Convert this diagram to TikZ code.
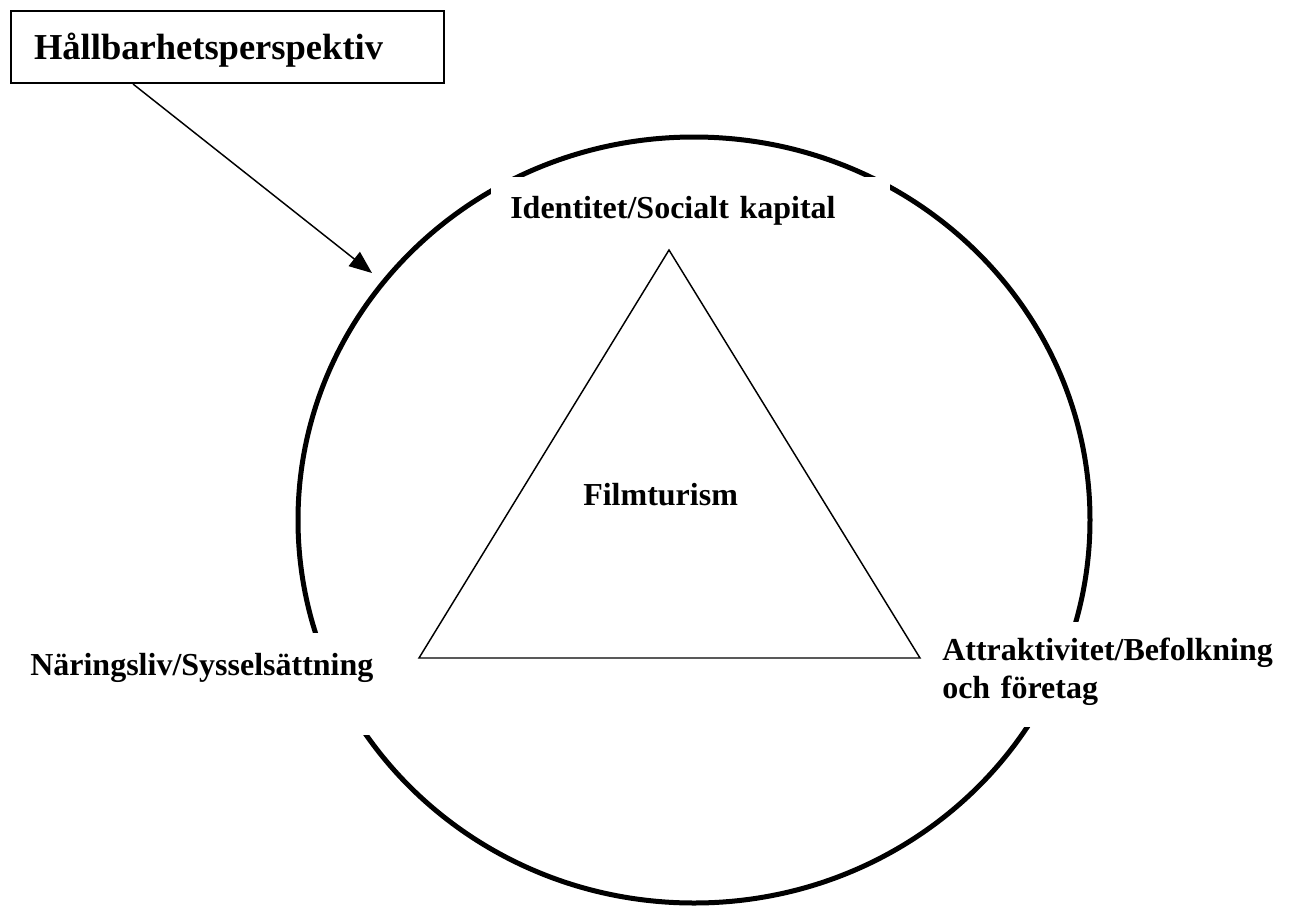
\documentclass[tikz,border=0pt]{standalone}
\usepackage{fontspec}
\setmainfont{Liberation Serif}
\usetikzlibrary{arrows.meta}
\newdimen\px \px=0.75pt
\begin{document}
\begin{tikzpicture}[x=.75pt,y=-.75pt,
  ring/.style={draw=black,line width=3.75pt},
  tri/.style={draw=black,line width=1.1pt,line join=miter},
  pointer/.style={draw=black,line width=1.1pt,-{Triangle[length=17pt,width=13.5pt]}},
  titlebox/.style={draw=black,fill=white,line width=1.5pt,inner ysep=0pt,inner xsep=23\px,align=left,font=\bfseries\fontsize{27.4}{31.5}\selectfont},
  lbl/.style={fill=white,inner ysep=0pt,inner xsep=19\px,align=left,font=\bfseries\fontsize{24}{28.5}\selectfont}]
\path[use as bounding box] (0,0) rectangle (1290,908);
\path[fill=white,draw=none] (0,0) rectangle (1290,908);
% outer ring, cut open by the white label boxes
\draw[ring] (694,520) ellipse [x radius=396,y radius=383];
\node[lbl,anchor=north west,text width=361\px,text height=41\px,text depth=17\px] (ident) at (491,177) {Identitet/Socialt kapital};
\node[lbl,anchor=north west,text width=342\px,text height=42\px,text depth=60\px] (naring) at (11,633) {Näringsliv/Sysselsättning};
\node[lbl,anchor=north west,text width=345\px,text height=38\px,text depth=67\px] (attrak) at (923,622) {Attraktivitet/Befolkning\\och företag};
% inner triangle
\draw[tri] (669,250) -- (920,658) -- (419,658) -- cycle;
\node[inner sep=0pt,anchor=base west,font=\bfseries\fontsize{24}{28.5}\selectfont] (core) at (583,505) {Filmturism};
% perspective box and its arrow
\node[titlebox,anchor=north west,text width=387\px,text height=48\px,text depth=24\px] (title) at (10,10) {Hållbarhetsperspektiv};
\coordinate (tip) at (372,273);
\draw[pointer] ([xshift=92.25pt]title.south west) -- (tip);
\end{tikzpicture}
\end{document}
